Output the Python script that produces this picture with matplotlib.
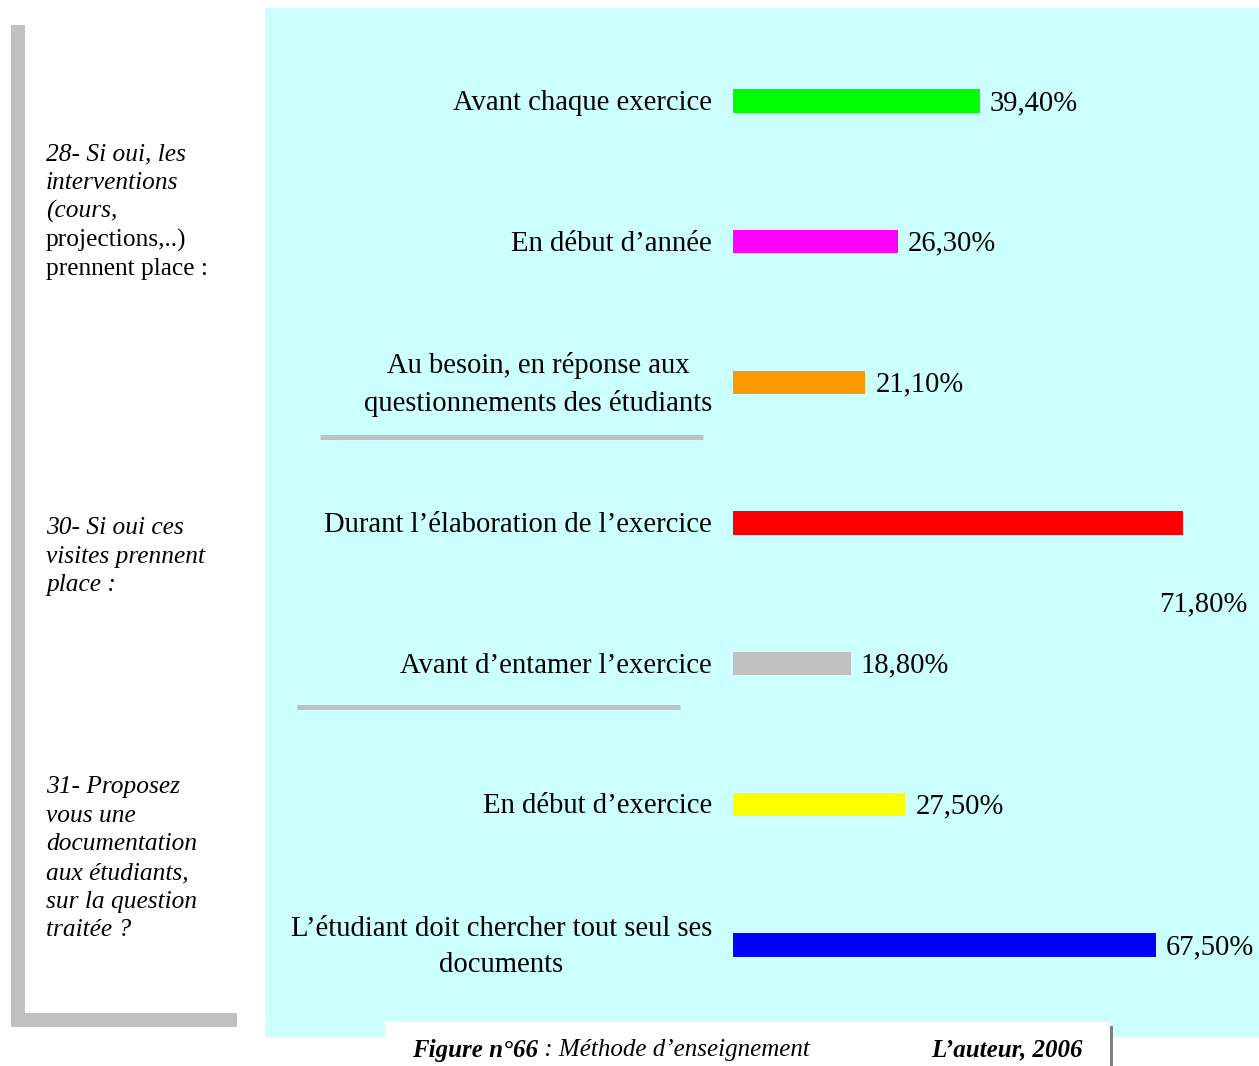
import matplotlib
matplotlib.use("Agg")
import matplotlib.pyplot as plt
from matplotlib.patches import Rectangle
from matplotlib.lines import Line2D

# --- data -------------------------------------------------------------
categories = [
    "Avant chaque exercice",
    "En début d\u2019année",
    "Au besoin, en réponse aux\nquestionnements des étudiants",
    "Durant l\u2019élaboration de l\u2019exercice",
    "Avant d\u2019entamer l\u2019exercice",
    "En début d\u2019exercice",
    "L\u2019étudiant doit chercher tout seul ses\ndocuments",
]
values = [39.4, 26.3, 21.1, 71.8, 18.8, 27.5, 67.5]
bar_colors = ["#00FF00", "#FF00FF", "#FF9900", "#FF0000",
              "#C0C0C0", "#FFFF00", "#0000FF"]

questions = [
    [("28- Si oui, les", "italic"), ("interventions", "italic"),
     ("(cours,", "italic"), ("projections,..)", "normal"),
     ("prennent place :", "normal")],
    [("30- Si oui ces", "italic"), ("visites prennent", "italic"),
     ("place :", "italic")],
    [("31- Proposez", "italic"), ("vous une", "italic"),
     ("documentation", "italic"), ("aux étudiants,", "italic"),
     ("sur la question", "italic"), ("traitée ?", "italic")],
]
caption_fig = "Figure n°66"
caption_title = " : Méthode d\u2019enseignement"
caption_src = "L\u2019auteur, 2006"

# --- figure -----------------------------------------------------------
W, H, DPI = 1259, 1066, 100
fig = plt.figure(figsize=(W / DPI, H / DPI), dpi=DPI)
fig.patch.set_facecolor("white")
SERIF = ["Liberation Serif", "DejaVu Serif"]
GRAY = "#C0C0C0"
PT = 72.0 / DPI  # points per pixel


def fx(x):
    return x / W


def fy(y):
    return 1 - y / H


# chart panel
left, right, top, bottom = 265, 1259, 8, 1037
ax = fig.add_axes([fx(left), fy(bottom), (right - left) / W, (bottom - top) / H])
ax.set_facecolor("#CCFFFF")
for s in ax.spines.values():
    s.set_visible(False)
ax.set_xticks([])
ax.set_yticks([])

x0_px, px_per_pct = 733, 6.27
ax.set_xlim(-(x0_px - left) / px_per_pct, (right - x0_px) / px_per_pct)
row_px = 140.67
y0_px = 101
ax.set_ylim(len(values) - 1 + (bottom - (y0_px + row_px * (len(values) - 1))) / row_px,
            -(y0_px - top) / row_px)

ypos = list(range(len(values)))
ax.barh(ypos, values, height=23.5 / row_px, color=bar_colors, left=0, zorder=2)

FS = 20.6
for i, (cat, v) in enumerate(zip(categories, values)):
    ax.annotate(cat, xy=(0, i), xytext=(-21 * PT, -2 * PT), textcoords="offset points",
                ha="right", va="center", multialignment="center",
                fontsize=FS, family=SERIF, linespacing=1.5)
    label = f"{v:.2f}".replace(".", ",") + "%"
    if v > 70:
        ax.annotate(label, xy=(v, i), xytext=(64 * PT, -81 * PT),
                    textcoords="offset points", ha="right", va="center",
                    fontsize=FS, family=SERIF)
    else:
        ax.annotate(label, xy=(v, i), xytext=(10 * PT, -2 * PT),
                    textcoords="offset points", ha="left", va="center",
                    fontsize=FS, family=SERIF)

# separators between question groups
for (xa, xb, yy) in [(320, 703, 437), (297, 680, 707)]:
    fig.add_artist(Line2D([fx(xa), fx(xb)], [fy(yy), fy(yy)], color=GRAY,
                          linewidth=5 * PT, solid_capstyle="butt", zorder=3))

# left frame (L shape)
fig.add_artist(Rectangle((fx(11), fy(1027)), 14 / W, (1027 - 25) / H,
                         transform=fig.transFigure, color=GRAY, lw=0, zorder=1))
fig.add_artist(Rectangle((fx(11), fy(1027)), (237 - 11) / W, 14 / H,
                         transform=fig.transFigure, color=GRAY, lw=0, zorder=1))

# question texts
starts = [154, 528, 787]
for block, ys in zip(questions, starts):
    for k, (line, style) in enumerate(block):
        fig.text(fx(46), fy(ys + k * 28.7), line, ha="left", va="center",
                 fontsize=18.3, style=style, family=SERIF)

# caption box
fig.add_artist(Rectangle((fx(385), 0), (1110 - 385) / W, (H - 1022) / H,
                         transform=fig.transFigure, color="white", lw=0, zorder=2))
fig.add_artist(Line2D([fx(1111), fx(1111)], [fy(1027), fy(1066)], color="#808080",
                      linewidth=3 * PT, zorder=3))
t1 = fig.text(fx(412), fy(1050), caption_fig, ha="left", va="center",
              fontsize=18, style="italic", weight="bold", family=SERIF, zorder=4)
fig.canvas.draw()
bb = t1.get_window_extent()
fig.text(bb.x1 / W, fy(1050), caption_title, ha="left", va="center",
         fontsize=18, style="italic", family=SERIF, zorder=4)
fig.text(fx(1083), fy(1050), caption_src, ha="right", va="center",
         fontsize=18, style="italic", weight="bold", family=SERIF, zorder=4)

fig.savefig("out.png", dpi=DPI)
